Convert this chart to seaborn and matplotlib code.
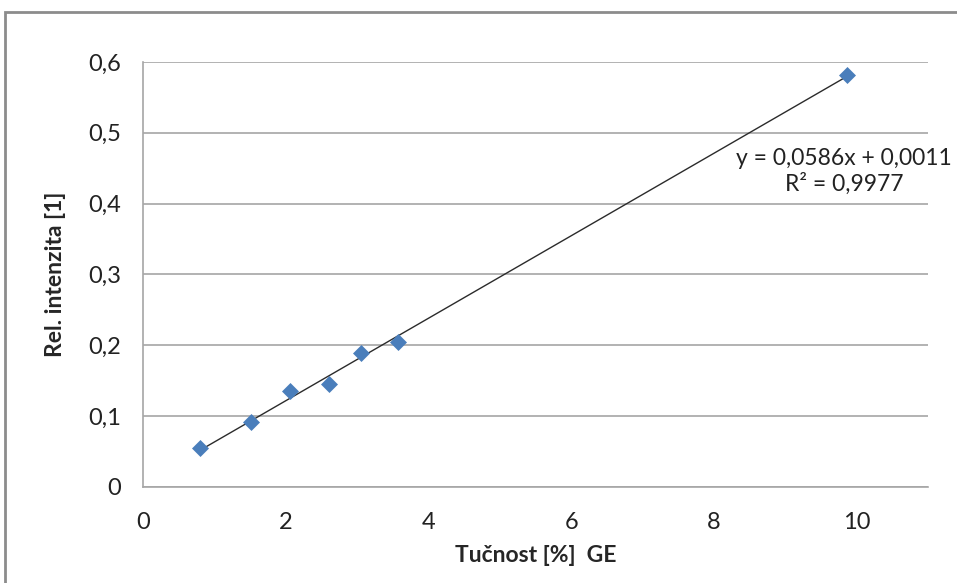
import numpy as np
import pandas as pd
import matplotlib
matplotlib.use("Agg")
import matplotlib.pyplot as plt
from matplotlib.patches import Rectangle
from matplotlib.ticker import FuncFormatter
import seaborn as sns

# data
tucnost = [0.80, 1.52, 2.06, 2.61, 3.05, 3.57, 9.87]
intenzita = [0.055, 0.092, 0.136, 0.145, 0.189, 0.205, 0.582]
x_ticks = [0, 2, 4, 6, 8, 10]
y_ticks = [0, 0.1, 0.2, 0.3, 0.4, 0.5, 0.6]
equation = "y = 0,0586x + 0,0011\nR² = 0,9977"

df = pd.DataFrame({"Tucnost": tucnost, "Intenzita": intenzita})

sns.set_style("white")
plt.rcParams["font.family"] = ["Lato", "DejaVu Sans"]

fig = plt.figure(figsize=(9.57, 5.83), dpi=100)
ax = fig.add_axes([0.1494, 0.1647, 0.8203, 0.729])

# outer chart frame (cut off at right and bottom like the screenshot)
fig.patches.append(Rectangle((5 / 957, -0.05), 1.1, 1 - 12 / 583 + 0.05,
                             transform=fig.transFigure, fill=False,
                             edgecolor="#8c8c8c", linewidth=2, zorder=0))

# trend line
sns.regplot(data=df, x="Tucnost", y="Intenzita", scatter=False, ci=None,
            line_kws={"color": "#2b2b2b", "linewidth": 1.0}, ax=ax)
sns.scatterplot(data=df, x="Tucnost", y="Intenzita", marker="D", s=75,
                color="#4a7ebb", edgecolor="#4a7ebb", linewidth=0, zorder=3, ax=ax)

ax.set_xlim(0, 11)
ax.set_ylim(0, 0.6)
ax.set_xticks(x_ticks)
ax.set_yticks(y_ticks)
fmt = FuncFormatter(lambda v, p: ("%g" % round(v, 2)).replace(".", ","))
ax.xaxis.set_major_formatter(fmt)
ax.yaxis.set_major_formatter(fmt)

ax.yaxis.grid(True, color="#a6a6a6", linewidth=1.2)
ax.xaxis.grid(False)
ax.set_axisbelow(True)
for side in ["top", "right"]:
    ax.spines[side].set_visible(False)
for side in ["left", "bottom"]:
    ax.spines[side].set_color("#a6a6a6")
    ax.spines[side].set_linewidth(1.2)
ax.tick_params(axis="both", which="both", direction="out", length=7, width=1.2,
               color="#a6a6a6", labelsize=17, labelcolor="#222222", pad=9)
ax.tick_params(axis="x", pad=11)

ax.set_xlabel("Tučnost [%]  GE", fontsize=16.5, fontweight="bold", labelpad=9)
ax.set_ylabel("Rel. intenzita [1]", fontsize=16.5, fontweight="bold", labelpad=16)

ax.text(9.82, 0.446, equation, fontsize=16.5, ha="center", va="center",
        multialignment="center", color="#222222", linespacing=1.2)

fig.savefig("out.png", dpi=100)
